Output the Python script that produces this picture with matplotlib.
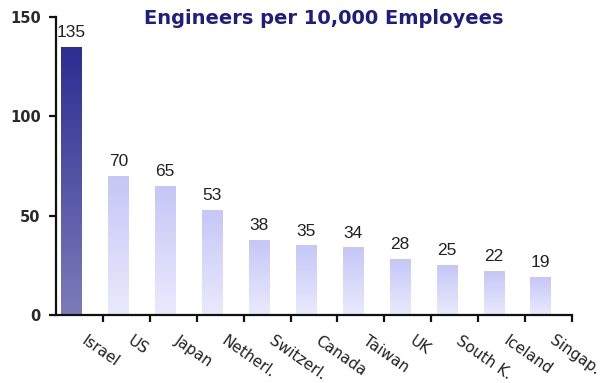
import numpy as np
import matplotlib
matplotlib.use("Agg")
import matplotlib.pyplot as plt
from matplotlib.colors import LinearSegmentedColormap

countries = ["Israel", "US", "Japan", "Netherl.", "Switzerl.", "Canada",
             "Taiwan", "UK", "South K.", "Iceland", "Singap."]
engineers = [135, 70, 65, 53, 38, 35, 34, 28, 25, 22, 19]
y_ticks = [0, 50, 100, 150]

fig = plt.figure(figsize=(6.05, 3.83), dpi=100)
ax = fig.add_axes([56 / 605, 1 - 315 / 383, (572 - 56) / 605, (315 - 17) / 383])

x = np.arange(len(countries))
bar_w = 0.43
bar_x = x - 0.17

bars = ax.bar(bar_x, engineers, width=bar_w, color="none", edgecolor="none", zorder=2)

dark = LinearSegmentedColormap.from_list("dark", ["#7c7cba", "#2c2c92"])
light = LinearSegmentedColormap.from_list("light", ["#eaeafd", "#c6c6f8"])
grad = np.linspace(0, 1, 256).reshape(-1, 1)

for i, (b, v) in enumerate(zip(bars, engineers)):
    cmap = dark if i == 0 else light
    x0 = b.get_x()
    im = ax.imshow(grad, cmap=cmap, origin="lower", aspect="auto",
                   extent=[x0, x0 + bar_w, 0, v], zorder=2)
    im.set_clip_path(b)
    ax.annotate(str(v), (b.get_x() + bar_w / 2, v), xytext=(0, 5),
                textcoords="offset points", ha="center", va="bottom",
                fontsize=12.5, color="#222222", family="Liberation Sans")

ax.set_xlim(-0.5, len(countries) - 0.5)
ax.set_ylim(0, 150)
ax.set_yticks(y_ticks)
ax.set_yticklabels([str(t) for t in y_ticks], fontsize=10.5, fontweight="bold",
                   color="#2a2a2a")
ax.set_xticks(np.arange(len(countries)) + 0.5)
ax.set_xticklabels([])

for i, name in enumerate(countries):
    ax.annotate(name, (i + 0.16, 0), xytext=(0, -13), textcoords="offset points",
                ha="left", va="top", rotation=-35, rotation_mode="anchor",
                fontsize=11, color="#222222")

for side in ("top", "right"):
    ax.spines[side].set_visible(False)
for side in ("left", "bottom"):
    ax.spines[side].set_linewidth(1.6)
    ax.spines[side].set_color("#111111")
ax.tick_params(axis="both", direction="out", length=5, width=1.6, color="#111111")
ax.tick_params(axis="y", pad=6)

fig.text(324 / 605, 1 - 19 / 383, "Engineers per 10,000 Employees",
         ha="center", va="center", fontsize=14, fontweight="bold", color="#1e1e82")

fig.savefig("out.png", dpi=100)
